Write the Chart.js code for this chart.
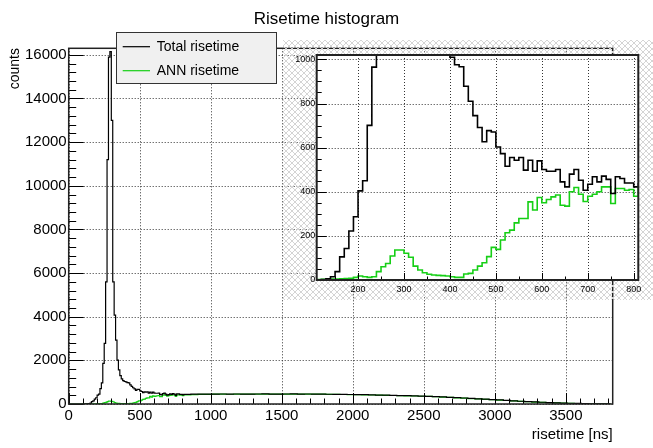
<!DOCTYPE html>
<html>
<head>
<meta charset="utf-8">
<script src="https://cdn.jsdelivr.net/npm/chart.js@4/dist/chart.umd.min.js"></script>
<style>
  html, body { margin: 0; padding: 0; background: #fff; }
  #wrap { position: relative; width: 653px; height: 448px; }
  #mainChart { position: absolute; left: 0; top: 0; }
  #insetChart { position: absolute; left: 283px; top: 40px; }
</style>
</head>
<body>
<div id="wrap">
  <canvas id="mainChart" width="653" height="448"></canvas>
  <canvas id="insetChart" width="370" height="260"></canvas>
</div>
<script>
// histogram contents, 10 ns bins from 0 to 810
const fineStart = 0;
const fineWidth = 10;
const totalFine = [
    0, 0, 0, 0, 0, 0, 0, 0, 0, 0,
    0, 0, 2, 5, 15, 38, 105, 143, 222, 287,
    404, 450, 701, 965, 1860, 2780, 5600, 11200, 15900, 16150,
    13000, 5600, 4070, 2930, 2010, 1560, 1300, 1150, 1070, 1030,
    1010, 976, 967, 878, 810, 745, 691, 627, 677, 671,
    603, 573, 516, 555, 543, 555, 498, 543, 493, 540,
    501, 493, 493, 501, 445, 422, 480, 501, 452, 407,
    434, 468, 445, 471, 456, 392, 468, 460, 440, 440,
    422
];
const annFine = [
    0, 0, 0, 0, 0, 0, 0, 0, 0, 0,
    2, 2, 3, 3, 4, 4, 5, 7, 8, 12,
    18, 15, 12, 15, 38, 60, 75, 109, 136, 136,
    121, 103, 63, 45, 33, 26, 23, 21, 20, 18,
    15, 12, 12, 27, 30, 45, 63, 78, 106, 148,
    139, 181, 214, 226, 259, 279, 279, 354, 317, 374,
    350, 365, 377, 385, 339, 335, 400, 419, 389, 356,
    380, 389, 400, 422, 422, 347, 415, 415, 407, 410,
    380
];

// tail, 50 ns bins from 810 to 3810
const tailStart = 810;
const tailWidth = 50;
const totalTail = [
    440, 452, 455, 456, 455, 458, 453, 459, 456, 455,
    459, 461, 456, 455, 458, 462, 457, 459, 454, 457,
    446, 444, 441, 436, 431, 426, 418, 411, 404, 396,
    388, 380, 372, 362, 352, 339, 324, 308, 291, 274,
    256, 238, 221, 204, 186, 166, 146, 126, 108, 94,
    80, 66, 54, 44, 34, 26, 18, 12, 7, 4
];
const annTail = [
    420, 432, 440, 445, 448, 452, 447, 453, 450, 449,
    453, 455, 450, 449, 452, 456, 451, 453, 448, 451,
    440, 438, 435, 430, 425, 420, 412, 405, 398, 390,
    382, 374, 366, 356, 346, 333, 318, 302, 285, 268,
    250, 232, 215, 198, 180, 160, 140, 120, 102, 88,
    74, 60, 48, 38, 28, 20, 13, 8, 4, 2
];

const seriesNames = ['Total risetime', 'ANN risetime'];
const mainXTicks = [0, 500, 1000, 1500, 2000, 2500, 3000, 3500];
const mainYTicks = [0, 2000, 4000, 6000, 8000, 10000, 12000, 14000, 16000];
const insetXTicks = [200, 300, 400, 500, 600, 700, 800];
const insetYTicks = [0, 200, 400, 600, 800, 1000];

const GREEN = '#16cf16';
const FONT = '"Liberation Sans", Arial, sans-serif';

function steps(start, width, values) {
    return values.map((v, i) => ({ x: start + i * width, y: v }));
}
function histPoints(fine, tail) {
    const pts = steps(fineStart, fineWidth, fine).concat(steps(tailStart, tailWidth, tail));
    pts.push({ x: tailStart + tail.length * tailWidth, y: 0 });
    return pts;
}
const totalPts = histPoints(totalFine, totalTail);
const annPts = histPoints(annFine, annTail);

// grid + inward ticks + frame, ROOT style
function frameDecor(cfg) {
    return {
        id: 'frameDecor',
        beforeDraw(chart) {
            if (cfg.background) cfg.background(chart);
        },
        beforeDatasetsDraw(chart) {
            const { ctx, chartArea: a, scales } = chart;
            ctx.save();
            ctx.strokeStyle = '#333';
            ctx.lineWidth = 1;
            ctx.setLineDash([1, 2]);
            cfg.xTicks.forEach(v => {
                const px = Math.round(scales.x.getPixelForValue(v)) + 0.5;
                ctx.beginPath(); ctx.moveTo(px, a.top); ctx.lineTo(px, a.bottom); ctx.stroke();
            });
            cfg.yTicks.forEach(v => {
                const py = Math.round(scales.y.getPixelForValue(v)) + 0.5;
                ctx.beginPath(); ctx.moveTo(a.left, py); ctx.lineTo(a.right, py); ctx.stroke();
            });
            ctx.restore();
        },
        afterDatasetsDraw(chart) {
            const { ctx, chartArea: a, scales } = chart;
            ctx.save();
            ctx.strokeStyle = '#000';
            ctx.lineWidth = 1;
            for (let v = scales.x.min; v <= scales.x.max; v += 1) {
                if (v % cfg.xMinor !== 0) continue;
                const major = v % cfg.xMajor === 0;
                const px = Math.round(scales.x.getPixelForValue(v)) + 0.5;
                const len = major ? cfg.xLen : cfg.xLen / 2;
                ctx.beginPath(); ctx.moveTo(px, a.bottom); ctx.lineTo(px, a.bottom - len); ctx.stroke();
            }
            for (let v = 0; v <= scales.y.max; v += cfg.yMinor) {
                const major = v % cfg.yMajor === 0;
                const py = Math.round(scales.y.getPixelForValue(v)) + 0.5;
                const len = major ? cfg.yLen : cfg.yLen / 2;
                ctx.beginPath(); ctx.moveTo(a.left, py); ctx.lineTo(a.left + len, py); ctx.stroke();
            }
            ctx.lineWidth = cfg.frameWidth;
            ctx.strokeStyle = '#222';
            ctx.strokeRect(a.left, a.top, a.right - a.left, a.bottom - a.top);
            ctx.restore();
            if (cfg.extra) cfg.extra(chart);
        }
    };
}

function mainExtra(chart) {
    const ctx = chart.ctx;
    ctx.save();
    ctx.fillStyle = '#000';
    ctx.font = '17px ' + FONT;
    ctx.textAlign = 'center';
    ctx.textBaseline = 'alphabetic';
    ctx.fillText('Risetime histogram', 326.5, 23.5);

    ctx.font = '15px ' + FONT;
    ctx.textAlign = 'right';
    ctx.fillText('risetime [ns]', 612.7, 438.5);

    ctx.save();
    ctx.translate(15, 48);
    ctx.rotate(-Math.PI / 2);
    ctx.font = '14px ' + FONT;
    ctx.textAlign = 'right';
    ctx.textBaseline = 'middle';
    ctx.fillText('counts', 0, 0);
    ctx.restore();

    // legend box
    ctx.fillStyle = '#f0f0f0';
    ctx.fillRect(116.5, 32.5, 160, 51);
    ctx.strokeStyle = '#333';
    ctx.lineWidth = 1;
    ctx.strokeRect(116.5, 32.5, 160, 51);
    const colors = ['#000', GREEN];
    const ys = [46.7, 70.7];
    seriesNames.forEach((name, i) => {
        ctx.strokeStyle = colors[i];
        ctx.lineWidth = 1.2;
        ctx.beginPath(); ctx.moveTo(122.7, ys[i]); ctx.lineTo(150, ys[i]); ctx.stroke();
        ctx.fillStyle = '#000';
        ctx.font = '14px ' + FONT;
        ctx.textAlign = 'left';
        ctx.textBaseline = 'middle';
        ctx.fillText(name, 156.7, ys[i] + 0.5);
    });
    ctx.restore();
}

function makeHatch() {
    const c = document.createElement('canvas');
    c.width = 6; c.height = 6;
    const g = c.getContext('2d');
    g.strokeStyle = '#d4d4d4';
    g.lineWidth = 1;
    g.beginPath();
    g.moveTo(0, 0); g.lineTo(6, 6);
    g.moveTo(6, 0); g.lineTo(0, 6);
    g.stroke();
    return c;
}

function insetBackground(chart) {
    const { ctx, chartArea: a, width, height } = chart;
    ctx.save();
    ctx.fillStyle = ctx.createPattern(makeHatch(), 'repeat');
    ctx.fillRect(0, 0, width, height);
    ctx.fillStyle = '#fff';
    ctx.fillRect(a.left, a.top, a.right - a.left, a.bottom - a.top);
    ctx.restore();
}

function datasets(width) {
    return [
        { label: seriesNames[0], data: totalPts, borderColor: '#000', borderWidth: width,
          stepped: true, pointRadius: 0, fill: false },
        { label: seriesNames[1], data: annPts, borderColor: GREEN, borderWidth: width,
          stepped: true, pointRadius: 0, fill: false }
    ];
}

function axis(min, max, ticks, fontSize, pad, fitProp, fitVal) {
    return {
        type: 'linear',
        min: min,
        max: max,
        afterBuildTicks: s => { s.ticks = ticks.map(v => ({ value: v })); },
        afterFit: s => { s[fitProp] = fitVal; },
        grid: { display: false, drawTicks: false },
        border: { display: false },
        ticks: {
            color: '#000',
            padding: pad,
            maxRotation: 0,
            autoSkip: false,
            font: { family: FONT, size: fontSize },
            callback: v => String(v)
        }
    };
}

new Chart(document.getElementById('mainChart'), {
    type: 'line',
    data: { datasets: datasets(1.2) },
    options: {
        responsive: false,
        animation: false,
        layout: { padding: { left: 0, top: 48.3, right: 40.3, bottom: 0 } },
        plugins: { legend: { display: false }, tooltip: { enabled: false } },
        scales: {
            x: axis(0, 3830, mainXTicks, 15, 3, 'height', 44),
            y: axis(0, 16300, mainYTicks, 15, 2, 'width', 68.7)
        }
    },
    plugins: [frameDecor({
        xTicks: mainXTicks, yTicks: mainYTicks,
        xMajor: 500, xMinor: 100, xLen: 11,
        yMajor: 2000, yMinor: 400, yLen: 15,
        frameWidth: 1.5, extra: mainExtra
    })]
});

new Chart(document.getElementById('insetChart'), {
    type: 'line',
    data: { datasets: datasets(1.6) },
    options: {
        responsive: false,
        animation: false,
        layout: { padding: { left: 0, top: 15, right: 14.7, bottom: 0 } },
        plugins: { legend: { display: false }, tooltip: { enabled: false } },
        scales: {
            x: axis(110, 810, insetXTicks, 9, 4, 'height', 20),
            y: axis(0, 1020, insetYTicks, 9, 1.5, 'width', 33.7)
        }
    },
    plugins: [frameDecor({
        xTicks: insetXTicks, yTicks: insetYTicks,
        xMajor: 100, xMinor: 50, xLen: 7,
        yMajor: 200, yMinor: 50, yLen: 10,
        frameWidth: 2, background: insetBackground
    })]
});
</script>
</body>
</html>
